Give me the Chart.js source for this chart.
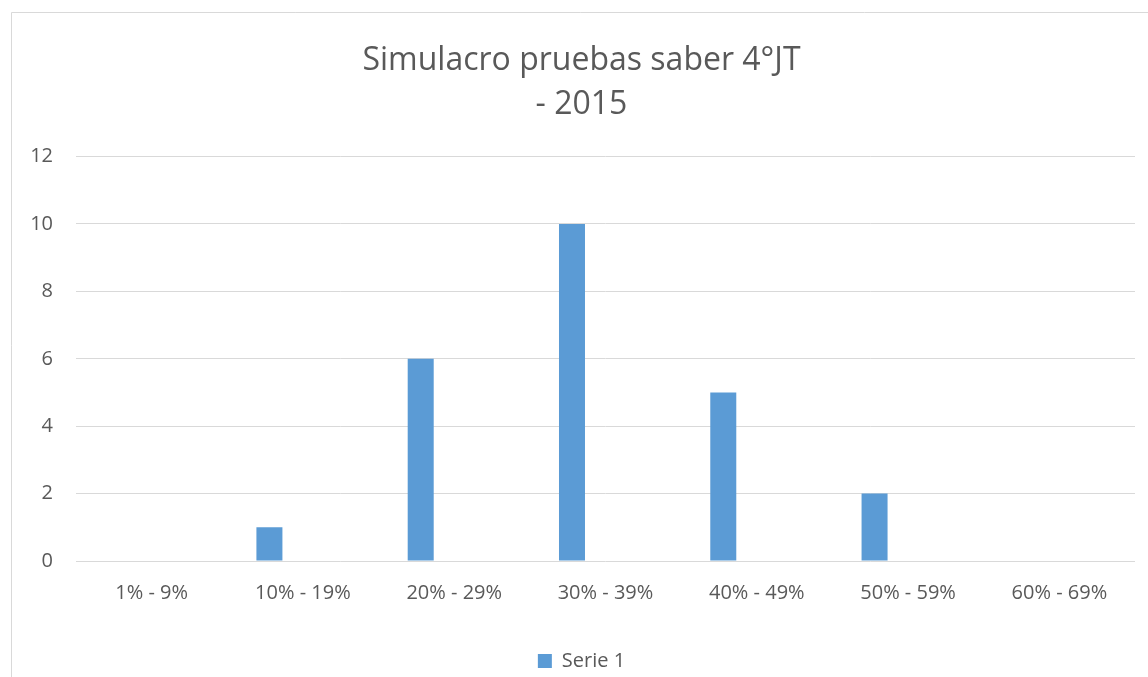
<!DOCTYPE html>
<html>
<head>
<meta charset="utf-8">
<script src="https://cdn.jsdelivr.net/npm/chart.js@4"></script>
<style>
  html, body { margin: 0; padding: 0; background: #fff; }
  #wrap { width: 1148px; height: 677px; position: relative; }
</style>
</head>
<body>
<div id="wrap"><canvas id="myChart"></canvas></div>
<script>
// data
var rangos = ["1% - 9%", "10% - 19%", "20% - 29%", "30% - 39%", "40% - 49%", "50% - 59%", "60% - 69%"]
var serie1 = [0, 1, 6, 10, 5, 2, 0]
// empty second series, only there to keep the bars left of the label like the original
var serie2 = [null, null, null, null, null, null, null]
var yTicks = [0, 2, 4, 6, 8, 10, 12]

var grisTexto = "#595959"
var grisLinea = "#d9d9d9"

// light frame around the chart (left and top edges show in the picture)
var marco = {
  id: "marco",
  beforeDraw: function(chart) {
    var ctx = chart.ctx
    ctx.save()
    ctx.fillStyle = "#fff"
    ctx.fillRect(0, 0, chart.width, chart.height)
    ctx.strokeStyle = grisLinea
    ctx.lineWidth = 1
    ctx.beginPath()
    ctx.moveTo(11.5, chart.height + 5)
    ctx.lineTo(11.5, 12.5)
    ctx.lineTo(chart.width + 5, 12.5)
    ctx.stroke()
    ctx.restore()
  }
}

var mychart = document.getElementById("myChart").getContext("2d")

var chart = new Chart(mychart, {
  type: "bar",
  data: {
    labels: rangos,
    datasets: [{
      label: "Serie 1",
      data: serie1,
      backgroundColor: "#5b9bd5",
      categoryPercentage: 0.886,
      barPercentage: 0.388
    },
    {
      label: "Serie 2",
      data: serie2,
      backgroundColor: "#ed7d31",
      categoryPercentage: 0.886,
      barPercentage: 0.388
    }]
  },
  options: {
    responsive: true,
    maintainAspectRatio: false,
    animation: false,
    // some left padding pushes title and legend a bit right, like the original
    layout: { padding: { left: 28, right: 13, top: 38, bottom: -4 } },
    plugins: {
      title: {
        display: true,
        text: ["Simulacro pruebas saber 4°JT", "- 2015"],
        color: grisTexto,
        font: { family: "Open Sans", size: 32, weight: "normal", lineHeight: 1.4 },
        padding: { top: 0, bottom: 29 }
      },
      legend: {
        position: "bottom",
        labels: {
          color: grisTexto,
          font: { family: "Open Sans", size: 20 },
          boxWidth: 14,
          boxHeight: 14,
          padding: 2,
          filter: function(item) { return item.text === "Serie 1" }
        }
      },
      tooltip: { enabled: false }
    },
    scales: {
      x: {
        afterFit: function(scale) { scale.height = 88 },
        grid: { display: false, drawTicks: false },
        border: { display: false },
        ticks: {
          color: grisTexto,
          font: { family: "Open Sans", size: 20 },
          padding: 20,
          maxRotation: 0
        }
      },
      y: {
        min: 0,
        max: 12,
        afterFit: function(scale) { scale.width = 48 },
        afterBuildTicks: function(scale) {
          scale.ticks = yTicks.map(function(v) { return { value: v } })
        },
        grid: { color: grisLinea, lineWidth: 1, drawTicks: false },
        border: { display: false },
        ticks: {
          color: grisTexto,
          font: { family: "Open Sans", size: 20 },
          padding: 23
        }
      }
    }
  },
  plugins: [marco]
})
</script>
</body>
</html>
